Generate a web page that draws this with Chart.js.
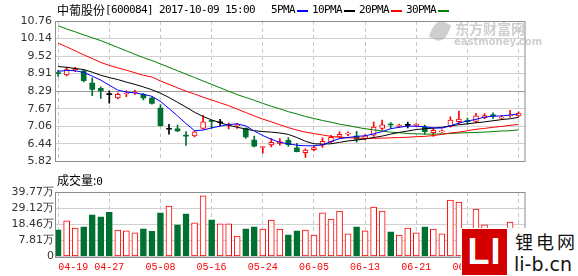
<!DOCTYPE html>
<html>
<head>
<meta charset="utf-8">
<script src="https://cdn.jsdelivr.net/npm/chart.js@4.4.0/dist/chart.umd.min.js"></script>
<style>
body { margin: 0; background: #fff; }
#wrap { position: relative; width: 578px; height: 276px; overflow: hidden; background: #fff; }
canvas { position: absolute; left: 0; }
#priceCanvas { top: 0; }
#volCanvas { top: 172px; }
.txt { position: absolute; white-space: nowrap; color: #000; }
.cn { font-family: "Noto Sans CJK SC", sans-serif; font-size: 12px; line-height: 14px; }
.mono { font-family: "DejaVu Sans Mono", monospace; font-size: 11px; letter-spacing: -0.62px; line-height: 14px; }
.seg { position: absolute; height: 2px; width: 11px; top: 10px; }
#em { position: absolute; left: 430px; top: 19px; width: 100px; height: 28px; white-space: nowrap; color: rgba(160,160,160,0.5); }
#wm { position: absolute; left: 461px; top: 228px; width: 117px; height: 48px; background: #fff; white-space: nowrap; }
#wmLogo { position: absolute; left: 1px; top: 1px; width: 45px; height: 46px; background: #d40000;
  color: #fff; font: bold 36px "Liberation Sans", sans-serif; line-height: 46px; text-align: center; letter-spacing: 1px; }
</style>
</head>
<body>
<div id="wrap">
  <canvas id="priceCanvas" width="578" height="172"></canvas>
  <canvas id="volCanvas" width="578" height="104"></canvas>

  <div class="txt cn" style="left:57px;top:3px">中葡股份</div>
  <div class="txt mono" style="left:105px;top:3px">[600084] 2017-10-09 15:00</div>
  <div class="txt mono" style="left:271px;top:3px">5PMA</div>
  <div class="seg" style="left:297px;background:#0000ff"></div>
  <div class="txt mono" style="left:312px;top:3px">10PMA</div>
  <div class="seg" style="left:344px;background:#000"></div>
  <div class="txt mono" style="left:359px;top:3px">20PMA</div>
  <div class="seg" style="left:391px;background:#ff0000"></div>
  <div class="txt mono" style="left:406px;top:3px">30PMA</div>
  <div class="seg" style="left:438px;background:#008000"></div>

  <div class="txt cn" style="left:57px;top:173px">成交量:<span class="mono">0</span></div>

  <div id="em">
    <div style="position:absolute;left:2px;top:2px;width:16px;height:20px;border-radius:50% 10% 50% 10%;background:rgba(160,160,160,0.5);transform:rotate(25deg)"></div>
    <div style="position:absolute;left:25px;top:0;font:bold 14px 'Noto Sans CJK SC',sans-serif;line-height:18px">东方财富网</div>
    <div style="position:absolute;left:24px;top:18px;font:bold 10px 'DejaVu Sans',sans-serif;line-height:10px">eastmoney.com</div>
  </div>

  <div id="wm">
    <div id="wmLogo">LI</div>
    <div style="position:absolute;left:54px;top:2px;font:18px 'Noto Sans CJK SC',sans-serif;line-height:22px;letter-spacing:3px;color:#111">锂电网</div>
    <div style="position:absolute;left:53px;top:25px;font:19px 'DejaVu Sans',sans-serif;line-height:22px;color:#111">li-b.cn</div>
  </div>
</div>

<script>
// trading days shown on the chart
const dates = [
    '04-19', '04-20', '04-21', '04-24', '04-25', '04-26', '04-27', '04-28',
    '05-02', '05-03', '05-04', '05-05', '05-08', '05-09', '05-10', '05-11', '05-12',
    '05-15', '05-16', '05-17', '05-18', '05-19', '05-22', '05-23', '05-24', '05-25',
    '05-26', '05-31', '06-01', '06-02', '06-05', '06-06', '06-07', '06-08', '06-09',
    '06-12', '06-13', '06-14', '06-15', '06-16', '06-19', '06-20', '06-21', '06-22',
    '06-23', '06-26', '06-27', '06-28', '06-29', '06-30', '07-03', '07-04', '07-05',
    '07-06', '07-07'
];

// daily K line (yuan)
const opens = [
    8.92, 8.86, 9.05, 9.00, 8.58, 8.39, 8.17, 8.05, 8.19, 8.23, 8.18, 8.05, 7.70, 6.95,
    6.97, 6.73, 6.72, 6.98, 7.24, 7.18, 7.08, 7.08, 6.98, 6.57, 6.31, 6.40, 6.45, 6.56,
    6.30, 6.13, 6.23, 6.39, 6.51, 6.68, 6.78, 6.71, 6.61, 6.74, 6.98, 7.11, 7.05, 7.09,
    7.09, 7.03, 6.83, 6.86, 7.05, 7.22, 7.24, 7.23, 7.36, 7.44, 7.34, 7.42, 7.42
];
const highs = [
    9.02, 9.14, 9.13, 9.04, 8.76, 8.44, 8.30, 8.23, 8.30, 8.32, 8.21, 8.08, 7.82, 7.12,
    7.10, 6.87, 6.90, 7.44, 7.25, 7.30, 7.18, 7.16, 7.00, 6.71, 6.34, 6.62, 6.62, 6.66,
    6.46, 6.26, 6.36, 6.65, 6.74, 6.86, 6.86, 6.88, 6.76, 7.20, 7.27, 7.19, 7.13, 7.20,
    7.15, 7.10, 6.99, 6.93, 7.39, 7.59, 7.34, 7.51, 7.50, 7.53, 7.44, 7.62, 7.56
];
const lows = [
    8.81, 8.83, 8.98, 8.62, 8.13, 8.04, 7.87, 8.02, 8.10, 8.18, 7.98, 7.83, 7.06, 6.78,
    6.87, 6.38, 6.68, 6.95, 6.98, 7.08, 6.96, 6.98, 6.63, 6.33, 6.11, 6.33, 6.39, 6.35,
    6.15, 5.96, 6.19, 6.31, 6.48, 6.64, 6.72, 6.50, 6.58, 6.70, 6.92, 6.98, 7.01, 7.00,
    7.04, 6.78, 6.70, 6.84, 7.02, 7.13, 7.12, 7.17, 7.32, 7.33, 7.29, 7.38, 7.39
];
const closes = [
    8.91, 9.05, 9.09, 8.66, 8.35, 8.30, 8.17, 8.18, 8.22, 8.25, 8.05, 7.86, 7.08, 6.95,
    6.89, 6.71, 6.86, 7.21, 7.23, 7.18, 7.11, 7.10, 6.68, 6.36, 6.33, 6.49, 6.52, 6.41,
    6.16, 6.22, 6.31, 6.53, 6.67, 6.77, 6.80, 6.60, 6.72, 7.03, 7.11, 7.10, 7.08, 7.09,
    7.11, 6.87, 6.91, 6.89, 7.27, 7.31, 7.22, 7.42, 7.43, 7.42, 7.37, 7.46, 7.52
];

// moving averages
const ma5 = [
    8.99, 9.02, 9.01, 8.95, 8.82, 8.68, 8.50, 8.33, 8.26, 8.23, 8.18, 8.11, 7.93, 7.68,
    7.42, 7.15, 6.90, 6.92, 7.00, 7.06, 7.12, 7.14, 7.07, 6.89, 6.73, 6.60, 6.49, 6.44,
    6.39, 6.37, 6.37, 6.40, 6.52, 6.62, 6.66, 6.70, 6.72, 6.79, 6.87, 6.97, 7.02, 7.06,
    7.06, 7.04, 7.00, 6.99, 7.07, 7.17, 7.24, 7.30, 7.38, 7.41, 7.42, 7.45, 7.49
];
const ma10 = [
    9.16, 9.13, 9.09, 9.05, 8.96, 8.85, 8.77, 8.70, 8.61, 8.53, 8.44, 8.34, 8.22, 8.07,
    7.90, 7.73, 7.55, 7.40, 7.28, 7.18, 7.09, 7.02, 6.96, 6.90, 6.87, 6.85, 6.82, 6.77,
    6.66, 6.53, 6.44, 6.43, 6.44, 6.49, 6.54, 6.57, 6.61, 6.66, 6.71, 6.78, 6.84, 6.89,
    6.94, 6.97, 6.99, 7.02, 7.07, 7.11, 7.14, 7.18, 7.21, 7.25, 7.29, 7.32, 7.37
];
const ma20 = [
    9.98, 9.85, 9.71, 9.57, 9.44, 9.30, 9.20, 9.11, 9.03, 8.94, 8.85, 8.79, 8.65, 8.53,
    8.41, 8.29, 8.19, 8.08, 7.98, 7.88, 7.78, 7.66, 7.54, 7.42, 7.31, 7.21, 7.11, 7.01,
    6.92, 6.85, 6.80, 6.75, 6.70, 6.67, 6.65, 6.64, 6.63, 6.63, 6.64, 6.65, 6.66, 6.67,
    6.69, 6.70, 6.73, 6.77, 6.82, 6.85, 6.90, 6.95, 6.98, 7.02, 7.05, 7.09, 7.12
];
const ma30 = [
    10.59, 10.48, 10.38, 10.27, 10.17, 10.07, 9.95, 9.83, 9.71, 9.59, 9.47, 9.37, 9.25,
    9.13, 9.01, 8.89, 8.77, 8.65, 8.53, 8.41, 8.29, 8.17, 8.07, 7.97, 7.86, 7.76, 7.67,
    7.57, 7.49, 7.40, 7.33, 7.26, 7.20, 7.13, 7.08, 7.02, 6.97, 6.93, 6.89, 6.85, 6.83,
    6.80, 6.79, 6.78, 6.78, 6.79, 6.80, 6.82, 6.83, 6.84, 6.85, 6.87, 6.89, 6.90, 6.93
];

// volume in 万 shares, 1 = red (rising) bar, 0 = green
const volumes = [
    14.83, 20.78, 15.95, 16.82, 24.75, 23.43, 26.28, 14.63, 14.17, 12.85, 15.49, 13.71,
    26.08, 30.50, 18.14, 25.41, 19.36, 37.32, 21.45, 18.80, 18.80, 10.66, 15.49, 16.82,
    15.29, 21.25, 15.29, 11.52, 14.17, 14.63, 11.33, 26.08, 21.91, 27.20, 12.19, 16.82,
    14.17, 29.85, 27.20, 13.51, 11.33, 15.95, 12.85, 16.82, 15.29, 12.19, 34.48, 33.16,
    14.00, 28.53, 18.14, 12.00, 10.00, 19.93, 15.00
];
const volRise = [
    0, 1, 1, 0, 0, 0, 0, 1, 1, 1, 0, 0, 0, 1, 0, 0, 1, 1, 0, 1, 1, 1, 0, 0, 1, 1, 1, 0,
    0, 1, 1, 1, 1, 1, 1, 0, 1, 1, 1, 0, 1, 1, 1, 0, 1, 1, 1, 1, 0, 1, 1, 0, 1, 1, 1
];

// axis ticks
const priceTicks = [5.82, 6.44, 7.06, 7.67, 8.29, 8.91, 9.52, 10.14, 10.76];
const volTicks = [0, 7.81, 18.46, 29.12, 39.77];
const dateTickStep = 6;

const RED = '#ff0000';
const GREEN = '#007130';
const volMin = 2 * volTicks[1] - volTicks[2]; // bottom gridline, labelled 0

function candleColor(i) {
    if (closes[i] > opens[i]) return RED;
    if (closes[i] < opens[i]) return GREEN;
    return '#000';
}

const framePlugin = {
    id: 'frame',
    afterDraw(chart) {
        const a = chart.chartArea;
        const ctx = chart.ctx;
        ctx.save();
        ctx.strokeStyle = '#8c8c8c';
        ctx.lineWidth = 1;
        ctx.strokeRect(Math.round(a.left) - 0.5, Math.round(a.top) + 0.5,
            Math.round(a.right - a.left) + 0.5, Math.round(a.bottom - a.top));
        ctx.restore();
    }
};

function xScale(showLabels) {
    return {
        type: 'linear',
        offset: false,
        min: -0.25,
        max: dates.length - 0.25,
        afterBuildTicks(scale) {
            const t = [];
            for (let i = 0; i < dates.length; i += dateTickStep) t.push({ value: i });
            scale.ticks = t;
        },
        afterFit(scale) {
            scale.height = showLabels ? 19.5 : 0;
            scale.paddingLeft = 0;
            scale.paddingRight = 0;
        },
        grid: { color: '#c8c8c8', drawTicks: false, offset: false },
        border: { display: false, dash: [4, 3] },
        ticks: {
            display: showLabels,
            autoSkip: false,
            maxRotation: 0,
            align: 'inner',
            padding: 5,
            color: RED,
            font: { family: 'Liberation Mono', size: 10 },
            callback: v => dates[v]
        }
    };
}

const idx = dates.map((d, i) => i);

new Chart(document.getElementById('priceCanvas'), {
    type: 'bar',
    data: {
        datasets: [
            { type: 'line', data: idx.map(i => ({ x: i, y: ma5[i] })), borderColor: '#0000ff', order: 0 },
            { type: 'line', data: idx.map(i => ({ x: i, y: ma10[i] })), borderColor: '#000000', order: 0 },
            { type: 'line', data: idx.map(i => ({ x: i, y: ma20[i] })), borderColor: '#ff0000', order: 0 },
            { type: 'line', data: idx.map(i => ({ x: i, y: ma30[i] })), borderColor: '#008000', order: 0 },
            {
                // candle bodies
                data: idx.map(i => ({ x: i, y: [opens[i], closes[i]] })),
                barThickness: 5,
                minBarLength: 1,
                grouped: false,
                borderSkipped: false,
                backgroundColor: c => closes[c.dataIndex] > opens[c.dataIndex] ? '#fff' : candleColor(c.dataIndex),
                borderColor: c => candleColor(c.dataIndex),
                borderWidth: c => closes[c.dataIndex] > opens[c.dataIndex] ? 1 : 0,
                order: 1
            },
            {
                // wicks
                data: idx.map(i => ({ x: i, y: [lows[i], highs[i]] })),
                barThickness: 1,
                grouped: false,
                borderWidth: 0,
                backgroundColor: c => candleColor(c.dataIndex),
                order: 2
            }
        ]
    },
    options: {
        responsive: false,
        animation: false,
        devicePixelRatio: 1,
        events: [],
        layout: { padding: { top: 21, right: 53, bottom: 6, left: 0 } },
        elements: {
            line: { borderWidth: 1, tension: 0 },
            point: { radius: 0 }
        },
        plugins: { legend: { display: false }, tooltip: { enabled: false } },
        scales: {
            x: xScale(false),
            y: {
                type: 'linear',
                min: priceTicks[0],
                max: priceTicks[priceTicks.length - 1],
                afterBuildTicks(scale) {
                    scale.ticks = priceTicks.map(v => ({ value: v }));
                },
                afterFit(scale) { scale.width = 56; },
                grid: {
                    drawTicks: false,
                    color: c => (c.tick && c.tick.value === 8.29) ? '#9a9a9a' : '#d0d0d0'
                },
                border: { display: false },
                ticks: {
                    autoSkip: false,
                    padding: 4,
                    color: '#333',
                    font: { family: 'DejaVu Sans', size: 11 },
                    callback: v => v.toFixed(2)
                }
            }
        }
    },
    plugins: [framePlugin]
});

new Chart(document.getElementById('volCanvas'), {
    type: 'bar',
    data: {
        datasets: [{
            data: idx.map(i => ({ x: i, y: volumes[i] })),
            base: volMin,
            barThickness: 6,
            grouped: false,
            borderSkipped: false,
            backgroundColor: c => volRise[c.dataIndex] ? '#fff' : GREEN,
            borderColor: c => volRise[c.dataIndex] ? RED : GREEN,
            borderWidth: 1
        }]
    },
    options: {
        responsive: false,
        animation: false,
        devicePixelRatio: 1,
        events: [],
        layout: { padding: { top: 20, right: 53, bottom: 0, left: 0 } },
        plugins: { legend: { display: false }, tooltip: { enabled: false } },
        scales: {
            x: xScale(true),
            y: {
                type: 'linear',
                min: volMin,
                max: volTicks[volTicks.length - 1],
                afterBuildTicks(scale) {
                    scale.ticks = [volMin].concat(volTicks.slice(1)).map(v => ({ value: v }));
                },
                afterFit(scale) { scale.width = 56; },
                grid: { drawTicks: false, color: '#d0d0d0' },
                border: { display: false },
                ticks: {
                    autoSkip: false,
                    padding: 2,
                    color: '#333',
                    font: { family: 'DejaVu Sans', size: 11 },
                    callback: v => v === volMin ? '0' : v.toFixed(2) + '万'
                }
            }
        }
    },
    plugins: [framePlugin]
});
</script>
</body>
</html>
